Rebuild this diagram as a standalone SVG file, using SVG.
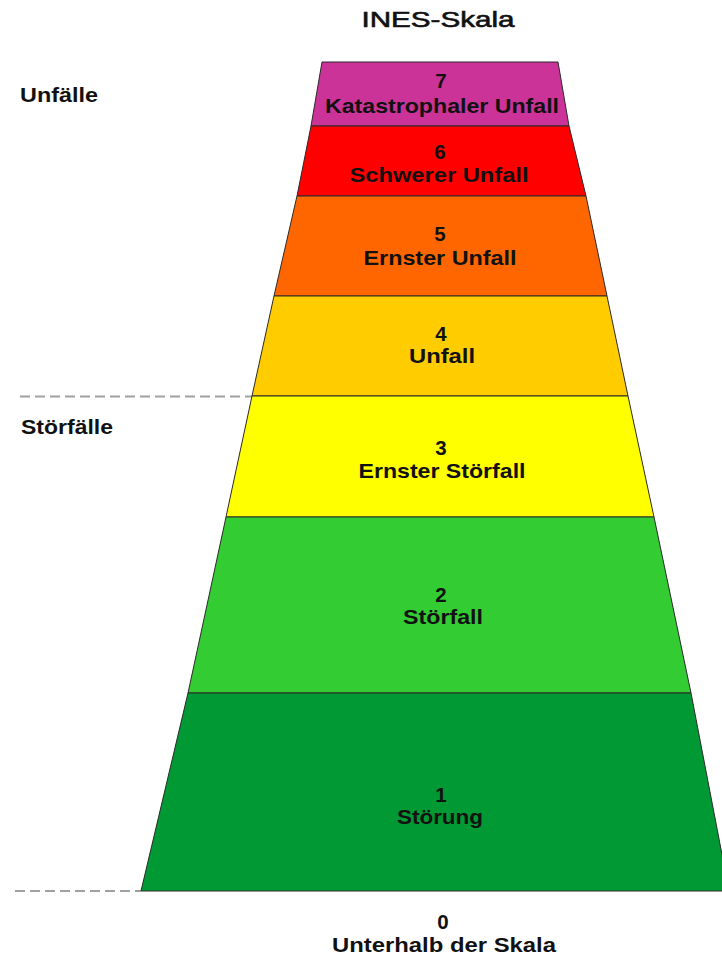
<svg xmlns="http://www.w3.org/2000/svg" width="722" height="961" viewBox="0 0 722 961">
<style>
.band{stroke:#2a2a2a;stroke-width:1;stroke-linejoin:round}
.lbl{font-family:"Liberation Sans",Arial,sans-serif;font-weight:bold;font-size:20.5px;fill:#111;text-anchor:middle}
.side{font-family:"Liberation Sans",Arial,sans-serif;font-weight:bold;font-size:20.5px;fill:#111}
.title{font-family:"Liberation Sans",Arial,sans-serif;font-size:22px;fill:#111;stroke:#111;stroke-width:0.6;text-anchor:middle}
.sep{stroke:#a0a0a0;stroke-width:2;stroke-dasharray:10 5;fill:none}
</style>
<rect width="722" height="961" fill="#ffffff"/>
<text class="title" x="438" y="27" textLength="153" lengthAdjust="spacingAndGlyphs">INES-Skala</text>
<text class="side" x="20" y="102" textLength="78" lengthAdjust="spacingAndGlyphs">Unfälle</text>
<text class="side" x="21" y="434" textLength="92" lengthAdjust="spacingAndGlyphs">Störfälle</text>
<g id="connectors">
<line class="sep" x1="20" y1="396.5" x2="252" y2="396.5"/>
<line class="sep" x1="15" y1="891" x2="141" y2="891"/>
</g>
<g id="level7">
<polygon class="band" fill="#CC3399" points="322,62 558,62 569,126 311,126"/>
<text class="lbl" x="441" y="88">7</text>
<text class="lbl" x="442" y="113" textLength="234" lengthAdjust="spacingAndGlyphs">Katastrophaler Unfall</text>
</g>
<g id="level6">
<polygon class="band" fill="#FF0000" points="311,126 569,126 586,196 297,196"/>
<text class="lbl" x="440" y="159">6</text>
<text class="lbl" x="439" y="182" textLength="179" lengthAdjust="spacingAndGlyphs">Schwerer Unfall</text>
</g>
<g id="level5">
<polygon class="band" fill="#FF6600" points="297,196 586,196 607,296 274,296"/>
<text class="lbl" x="440" y="241">5</text>
<text class="lbl" x="440" y="265" textLength="153" lengthAdjust="spacingAndGlyphs">Ernster Unfall</text>
</g>
<g id="level4">
<polygon class="band" fill="#FFCC00" points="274,296 607,296 628,396 252,396"/>
<text class="lbl" x="441" y="341">4</text>
<text class="lbl" x="442" y="363" textLength="66" lengthAdjust="spacingAndGlyphs">Unfall</text>
</g>
<g id="level3">
<polygon class="band" fill="#FFFF00" points="252,396 628,396 654,517 226,517"/>
<text class="lbl" x="441" y="455">3</text>
<text class="lbl" x="442" y="478" textLength="167" lengthAdjust="spacingAndGlyphs">Ernster Störfall</text>
</g>
<g id="level2">
<polygon class="band" fill="#33CC33" points="226,517 654,517 691,693 188,693"/>
<text class="lbl" x="441" y="602">2</text>
<text class="lbl" x="443" y="624" textLength="80" lengthAdjust="spacingAndGlyphs">Störfall</text>
</g>
<g id="level1">
<polygon class="band" fill="#009933" points="188,693 691,693 729,891 141,891"/>
<text class="lbl" x="441" y="802">1</text>
<text class="lbl" x="440" y="824" textLength="86" lengthAdjust="spacingAndGlyphs">Störung</text>
</g>
<g id="level0">
<text class="lbl" x="443" y="929">0</text>
<text class="lbl" x="444" y="952" textLength="224" lengthAdjust="spacingAndGlyphs">Unterhalb der Skala</text>
</g>
</svg>
